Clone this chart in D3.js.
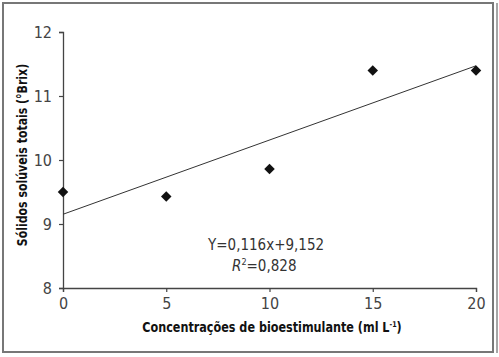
<!DOCTYPE html>
<html>
<head>
<meta charset="utf-8">
<script src="https://cdn.jsdelivr.net/npm/d3@7"></script>
<style>
  body { margin: 0; background: #fff; }
  svg { display: block; }
  text { font-family: "Liberation Sans Narrow", "DejaVu Sans Condensed", "Roboto Condensed", sans-serif; }
</style>
</head>
<body>
<div id="chart"></div>
<script>
// concentration (ml L-1) vs soluble solids (°Brix)
const doses = [0, 5, 10, 15, 20];
const brix = [9.5, 9.43, 9.86, 11.4, 11.4];
const xTicks = [0, 5, 10, 15, 20];
const yTicks = [8, 9, 10, 11, 12];
const slope = 0.116;
const intercept = 9.152;

const width = 499, height = 357;
const margin = { top: 32, right: 23, bottom: 69, left: 63 };

const svg = d3.select('#chart').append('svg')
  .attr('width', width).attr('height', height);

// frame around the figure
svg.append('rect')
  .attr('x', 3).attr('y', 3).attr('width', 490).attr('height', 349)
  .attr('fill', 'none').attr('stroke', '#777').attr('stroke-width', 2);
svg.append('line')
  .attr('x1', 497).attr('x2', 497).attr('y1', 3).attr('y2', 353)
  .attr('stroke', '#888').attr('stroke-width', 1.5);

const x = d3.scaleLinear().domain([0, 20]).range([margin.left, width - margin.right]);
const y = d3.scaleLinear().domain([8, 12]).range([height - margin.bottom, margin.top]);

const xAxis = svg.append('g')
  .attr('transform', `translate(0,${y(8)})`)
  .call(d3.axisBottom(x).tickValues(xTicks).tickSize(4).tickPadding(6).tickFormat(d3.format('d')));
const yAxis = svg.append('g')
  .attr('transform', `translate(${x(0)},0)`)
  .call(d3.axisLeft(y).tickValues(yTicks).tickSize(4).tickPadding(7).tickFormat(d3.format('d')));

[xAxis, yAxis].forEach((a) => {
  a.select('.domain').attr('stroke', '#444').attr('stroke-width', 1.3);
  a.selectAll('.tick line').attr('stroke', '#444').attr('stroke-width', 1.2);
  a.selectAll('.tick text').attr('fill', '#444').attr('font-size', 16);
});
yAxis.selectAll('.tick text').attr('dy', '0.36em');

// trend line
svg.append('line')
  .attr('x1', x(0)).attr('y1', y(intercept))
  .attr('x2', x(20)).attr('y2', y(intercept + slope * 20))
  .attr('stroke', '#333').attr('stroke-width', 1);

// diamond markers
const diamond = d3.symbol().type(d3.symbolDiamond2).size(70);
svg.append('g').selectAll('path')
  .data(doses.map((d, i) => [d, brix[i]]))
  .join('path')
  .attr('d', diamond)
  .attr('transform', (d) => `translate(${x(d[0])},${y(d[1])})`)
  .attr('fill', '#111');

// equation
svg.append('text')
  .attr('x', 208).attr('y', 250)
  .attr('fill', '#333').attr('font-size', 15)
  .text('Y=0,116x+9,152');
const r2 = svg.append('text')
  .attr('x', 232).attr('y', 271)
  .attr('fill', '#333').attr('font-size', 15);
r2.append('tspan').attr('font-style', 'italic').text('R');
r2.append('tspan').attr('font-size', 9).attr('dy', -6).text('2');
r2.append('tspan').attr('dy', 6).text('=0,828');

// axis titles (squeezed to match the condensed face of the original)
const xt = svg.append('text')
  .attr('transform', 'translate(272,332) scale(0.89,1)')
  .attr('text-anchor', 'middle')
  .attr('font-size', 14).attr('font-weight', 'bold').attr('fill', '#111')
  .text('Concentrações de bioestimulante (ml L');
xt.append('tspan').attr('font-size', 8).attr('dy', -5).text('-1');
xt.append('tspan').attr('dy', 5).text(')');

svg.append('text')
  .attr('transform', 'translate(27,155) rotate(-90) scale(0.87,1)')
  .attr('text-anchor', 'middle')
  .attr('font-size', 14).attr('font-weight', 'bold').attr('fill', '#111')
  .text('Sólidos solúveis totais (°Brix)');
</script>
</body>
</html>
